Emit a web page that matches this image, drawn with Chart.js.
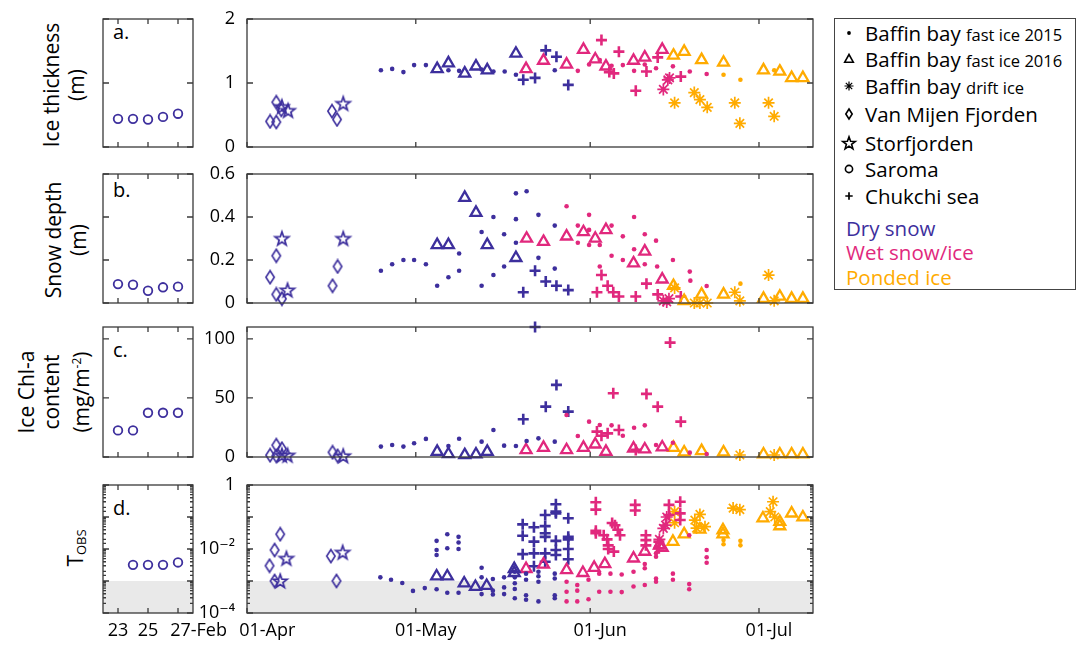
<!DOCTYPE html>
<html><head><meta charset="utf-8"><title>Sea ice observations</title>
<script src="https://cdn.jsdelivr.net/npm/chart.js@4.4.1/dist/chart.umd.min.js"></script>
<style>
html,body{margin:0;padding:0;background:#fff;}
body{width:1082px;height:646px;position:relative;overflow:hidden;font-family:'Open Sans','DejaVu Sans',sans-serif;color:#000;}
.box{position:absolute;}
.box canvas{display:block;}
.yt{position:absolute;transform:translate(-50%,-50%) rotate(-90deg);text-align:center;white-space:nowrap;font-size:21px;line-height:25px;}
.lab{position:absolute;font-size:20px;line-height:20px;}
#legend{position:absolute;left:834px;top:18px;width:242px;height:272px;border:1px solid #444;box-sizing:border-box;}
.lrow{position:absolute;left:0;height:28px;line-height:28px;white-space:nowrap;font-size:20.5px;}
.lrow svg{position:absolute;left:4px;top:4px;}
.lrow .t{position:absolute;left:30px;top:0;}
.lrow .s{font-size:16.5px;}
.phase{position:absolute;left:11px;height:26px;line-height:26px;font-size:20.5px;white-space:nowrap;}
sub{font-size:13px;vertical-align:-3px;}
sup{font-size:12px;vertical-align:8px;}
</style></head><body>
<div class="yt" style="left:64px;top:85px">Ice thickness<br>(m)</div>
<div class="yt" style="left:66px;top:240px">Snow depth<br>(m)</div>
<div class="yt" style="left:54px;top:392px">Ice Chl-a<br>content<br>(mg/m<sup>-2</sup>)</div>
<div class="yt" style="left:78px;top:548px">T<sub>OBS</sub></div>
<div class="lab" style="left:113px;top:22px">a.</div>
<div class="lab" style="left:113px;top:180px">b.</div>
<div class="lab" style="left:113px;top:340px">c.</div>
<div class="lab" style="left:113px;top:498px">d.</div>
<div id="legend"></div>
<script>
// ---------------- axes / categories ----------------
const febTicks = [23, 25, 27];
const febLabels = ['23', '25', '27-Feb'];
const monthTicks = [0, 30, 61, 91];          // days since 01-Apr
const monthLabels = ['01-Apr', '01-May', '01-Jun', '01-Jul'];
const thickTicks = [0, 1, 2];
const snowTicks = [0, 0.2, 0.4, 0.6];
const chlTicks = [0, 50, 100];
const tobsLabelValues = [1, 1e-2, 1e-4];
const tobsLabels = ['1', '10\u207B\u00B2', '10\u207B\u2074'];
const tobsLimit = 1e-3;
const legendSites = [['Baffin bay', 'fast ice 2015'], ['Baffin bay', 'fast ice 2016'], ['Baffin bay', 'drift ice'],
  ['Van Mijen Fjorden', ''], ['Storfjorden', ''], ['Saroma', ''], ['Chukchi sea', '']];
const legendPhases = ['Dry snow', 'Wet snow/ice', 'Ponded ice'];

// ---------------- Saroma (February) ----------------
const saromaDays = [23, 24, 25, 26, 27];
const saromaThick = [0.44, 0.44, 0.43, 0.47, 0.52];
const saromaSnow = [0.088, 0.085, 0.057, 0.073, 0.076];
const saromaChl = [22.5, 22.5, 37.4, 37.4, 37.4];
const saromaTobsDays = [24, 25, 26, 27];
const saromaTobs = [3.2e-3, 3.2e-3, 3.2e-3, 3.8e-3];

// ---------------- a. Ice thickness (m) [day since 01-Apr, value] ----------------
const thickVMF = [[4.1,0.40],[5.2,0.39],[5.2,0.70],[6.1,0.58],[15.1,0.56],[16.0,0.43]];
const thickStor = [[6.2,0.63],[7.3,0.57],[17.1,0.68]];
const thickBB15Dry = [[23.8,1.20],[25.8,1.22],[27.8,1.17],[29.7,1.28],[31.8,1.28],[35.8,1.20],[37.7,1.19],[41.7,1.21],[43.8,1.18],[45.8,1.18],[47.8,1.13],[54.7,1.20]];
const thickBB16Dry = [[33.8,1.22],[35.8,1.31],[38.7,1.15],[40.7,1.26],[42.7,1.20],[47.8,1.46]];
const thickChukDry = [[49.1,1.05],[51.2,1.08],[53.1,1.51],[55.0,1.41],[57.1,0.97]];
const thickBB16Wet = [[49.6,1.22],[52.7,1.35],[56.8,1.29],[59.8,1.52],[61.9,1.37],[63.8,1.26],[68.7,1.35],[70.7,1.40],[73.8,1.52]];
const thickBB15Wet = [[58.8,1.19],[60.8,1.29],[62.7,1.36],[64.8,1.27],[66.8,1.28],[68.8,1.19],[70.7,1.29],[72.7,1.23],[75.7,1.26],[78.7,1.18],[81.7,1.14]];
const thickChukWet = [[63.0,1.67],[64.4,1.17],[65.2,1.15],[66.1,1.49],[69.1,0.88],[71.0,1.18],[73.0,1.40],[77.1,1.10]];
const thickDriftWet = [[74.0,0.90],[74.8,1.05],[75.1,1.08]];
const thickBB16Pond = [[75.8,1.43],[77.7,1.49],[80.8,1.36],[84.7,1.32],[91.8,1.20],[94.7,1.18],[96.8,1.08],[98.8,1.08]];
const thickBB15Pond = [[84.7,1.13],[87.7,1.05],[93.7,1.20]];
const thickDriftPond = [[76.0,0.69],[79.5,0.85],[80.5,0.74],[81.8,0.62],[86.7,0.69],[87.6,0.37],[92.7,0.69],[93.7,0.48]];

// ---------------- b. Snow depth (m) ----------------
const snowVMF = [[4.1,0.12],[5.2,0.22],[5.2,0.04],[6.2,0.02],[15.2,0.08],[16.1,0.17]];
const snowStor = [[6.2,0.30],[7.2,0.06],[17.1,0.30]];
const snowBB15Dry = [[23.8,0.15],[25.8,0.18],[27.8,0.20],[29.7,0.20],[31.8,0.18],[33.8,0.08],[35.8,0.12],[37.7,0.23],[37.7,0.15],[41.7,0.33],[41.7,0.08],[43.8,0.40],[43.8,0.13],[45.7,0.32],[45.7,0.17],[47.8,0.51],[47.8,0.39],[47.8,0.28],[49.7,0.52],[51.8,0.41],[51.8,0.21],[54.7,0.36],[54.7,0.16]];
const snowBB16Dry = [[33.8,0.27],[35.8,0.27],[38.7,0.49],[40.7,0.42],[42.7,0.27],[47.8,0.21]];
const snowChukDry = [[49.1,0.05],[51.2,0.15],[53.1,0.10],[55.0,0.08],[57.1,0.06]];
const snowBB16Wet = [[49.7,0.30],[52.7,0.285],[56.8,0.31],[59.8,0.33],[61.9,0.30],[63.8,0.34],[68.7,0.185],[70.7,0.24],[73.8,0.11]];
const snowBB15Wet = [[56.8,0.45],[58.8,0.36],[58.8,0.28],[60.8,0.41],[60.8,0.34],[60.8,0.27],[62.7,0.27],[62.7,0.17],[64.8,0.36],[64.8,0.22],[66.8,0.31],[66.8,0.20],[68.8,0.40],[68.8,0.25],[70.7,0.32],[70.7,0.18],[72.7,0.29],[72.9,0.17],[75.7,0.20],[78.7,0.146],[78.8,0.104],[81.7,0.079]];
const snowChukWet = [[62.2,0.05],[63.0,0.13],[64.1,0.08],[65.1,0.05],[66.1,0.03],[69.1,0.03],[71.0,0.09],[73.0,0.04],[77.1,0.03]];
const snowDriftWet = [[74.0,0.01],[74.6,0.005],[75.0,0.02]];
const snowBB16Pond = [[75.8,0.08],[77.7,0.01],[80.8,0.04],[84.7,0.04],[91.8,0.02],[94.7,0.03],[96.8,0.02],[98.8,0.02]];
const snowBB15Pond = [[87.7,0.09]];
const snowDriftPond = [[76.0,0.07],[79.5,0.0],[80.5,0.0],[81.8,0.0],[86.7,0.05],[87.6,0.01],[92.7,0.13],[93.7,0.01]];

// ---------------- c. Ice Chl-a content (mg/m2) ----------------
const chlVMF = [[4.1,1.5],[5.2,10],[5.2,1],[6.2,7],[15.2,4],[16.1,1]];
const chlStor = [[6.2,1.5],[7.2,1.5],[17.1,1]];
const chlBB15Dry = [[23.8,8.8],[25.8,10.2],[27.8,8.8],[29.7,11.6],[31.8,15.3],[35.8,9.3],[37.7,15.5],[41.7,13],[43.8,22.9],[45.7,9.6],[47.8,9.3],[49.7,13.6],[51.8,15.8],[54.7,13]];
const chlBB16Dry = [[33.8,4.5],[35.8,2.5],[38.7,1.7],[40.7,2.3],[42.7,4.5]];
const chlChukDry = [[49.1,31.9],[51.2,110],[53.1,42.6],[55.0,61],[57.1,38.4]];
const chlBB16Wet = [[49.6,5.9],[52.7,7.9],[56.8,5.9],[59.8,7.9],[61.9,10.7],[63.8,4.5],[68.7,7.3],[70.7,6.5],[73.8,8.2]];
const chlBB15Wet = [[56.8,35.6],[58.8,17.8],[60.8,29.9],[62.7,27.1],[64.8,26.8],[66.8,18],[68.8,24.8],[70.7,26.8],[72.7,10.2],[75.7,12.1],[78.7,3.7],[81.7,2.5]];
const chlChukWet = [[62.2,21.5],[63.0,18],[64.1,20],[65.1,54],[66.1,22.9],[69.1,6],[71.0,53.4],[73.0,42.6],[75.2,96.8],[77.1,29.9]];
const chlBB16Pond = [[75.8,7.9],[77.7,4],[80.8,5.1],[84.7,4],[91.8,2.3],[94.7,2.3],[96.8,2.3],[98.8,2.3]];
const chlDriftPond = [[87.6,1.7],[93.7,1.7]];

// ---------------- d. T_OBS ----------------
const tobsVMF = [[4.0,3.0e-3],[4.9,9.3e-3],[5.9,0.029],[4.9,1.0e-3],[14.9,6.0e-3],[15.9,1.0e-3]];
const tobsStor = [[7.0,5.1e-3],[5.9,1.0e-3],[17.0,7.9e-3]];
const tobsBB15Dry = [[23.7,1.3e-3],[25.6,1.1e-3],[27.6,8.7e-4],[29.5,4.9e-4],[31.6,6.0e-4],[33.7,0.018],[33.7,9.3e-3],[33.7,6.5e-3],[33.7,5.5e-4],[35.6,0.029],[35.6,0.0105],[35.6,4.3e-4],[37.6,0.024],[37.6,0.016],[37.6,0.010],[37.6,4.3e-4],[41.7,2.6e-3],[41.7,1.3e-3],[41.7,3.9e-4],[43.7,1.15e-3],[43.7,5e-4],[43.7,3.8e-4],[45.7,1.3e-3],[45.7,6.3e-4],[45.7,3.9e-4],[47.6,1.95e-3],[47.6,1.3e-3],[47.6,8.5e-4],[47.6,5.6e-4],[47.6,2.9e-4],[49.6,1.7e-3],[49.6,1.1e-3],[49.6,3.6e-4],[49.6,2.6e-4],[51.8,1.95e-3],[51.8,1.4e-3],[51.8,9.5e-4],[51.8,2.3e-4],[54.7,1.7e-3],[54.7,1.2e-3],[54.7,3.6e-4],[54.7,2.9e-4]];
const tobsBB16Dry = [[33.7,1.4e-3],[35.6,1.4e-3],[38.6,8.5e-4],[40.6,6.6e-4],[42.6,7.1e-4],[47.5,2.4e-3],[47.5,1.8e-3]];
const tobsChukDry = [[49.0,0.059],[49.0,0.026],[49.0,6.9e-3],[51.0,0.048],[51.0,0.017],[51.0,7.3e-3],[51.0,2.9e-3],[53.0,0.115],[53.0,0.052],[53.0,0.031],[53.0,0.024],[53.0,7.3e-3],[53.0,4e-3],[54.9,0.25],[54.9,0.147],[54.9,0.13],[54.9,0.018],[54.9,9.3e-3],[54.9,6.5e-3],[57.1,0.091],[57.1,0.024],[57.1,0.020],[57.1,0.010],[57.1,4.8e-3]];
const tobsBB16Wet = [[49.6,2.4e-3],[52.7,3.3e-3],[56.8,2.2e-3],[59.7,1.8e-3],[61.7,2.6e-3],[63.6,3.4e-3],[68.7,5.1e-3],[70.7,8.3e-3],[73.3,0.013],[73.8,0.011]];
const tobsBB15Wet = [[56.8,9.5e-4],[56.8,4.6e-4],[56.8,2.3e-4],[58.7,7.5e-4],[58.7,5e-4],[58.7,2.3e-4],[60.7,1.1e-3],[60.7,2.7e-4],[62.6,1.7e-3],[62.6,4.6e-4],[64.6,1.7e-3],[64.6,4.6e-4],[66.6,1.6e-3],[66.6,4.5e-4],[68.7,1.95e-3],[68.7,6.7e-4],[70.7,3.4e-3],[70.7,2.5e-3],[70.7,7.5e-4],[72.7,0.012],[72.7,7.3e-3],[72.7,5.7e-3],[72.7,1.2e-3],[72.7,9.5e-4],[75.7,1.7e-3],[75.7,1.1e-3],[78.6,0.027],[78.6,8e-4],[78.6,5.5e-4],[81.7,9.3e-3],[81.7,5.5e-3],[81.7,3.7e-3]];
const tobsChukWet = [[62.0,0.29],[62.0,0.17],[62.0,0.037],[62.0,0.031],[63.4,0.027],[64.0,0.02],[64.2,0.013],[64.2,0.010],[64.9,0.065],[65.4,0.055],[65.9,0.04],[66.3,0.027],[65.2,8.3e-3],[69.0,0.24],[69.0,0.16],[70.9,0.027],[70.9,0.019],[70.9,0.013],[73.2,0.017],[73.2,0.0105],[75.0,0.24],[75.0,0.115],[77.0,0.30],[77.0,0.13],[77.0,0.081]];
const tobsDriftWet = [[74.6,0.10],[74.4,0.056],[74.0,0.044],[73.3,0.02]];
const tobsBB16Pond = [[75.7,0.017],[77.7,0.029],[80.5,0.041],[84.6,0.039],[84.6,0.029],[91.7,0.091],[94.7,0.071],[94.7,0.052],[96.8,0.13],[98.8,0.098]];
const tobsBB15Pond = [[84.7,0.019],[84.7,0.014],[87.7,0.018],[87.7,0.013]];
const tobsDriftPond = [[76.0,0.147],[76.0,0.066],[79.6,0.08],[80.5,0.12],[79.9,0.045],[81.4,0.05],[86.4,0.19],[87.6,0.17],[93.0,0.147],[93.5,0.30],[93.8,0.10]];

// ---------------- styling ----------------
const FONT = "'Open Sans','DejaVu Sans',sans-serif";
const COL = {dry: '#3d2f9d', wet: '#e1287d', pond: '#ffab00'};

function starCanvas(color) {
  const R = 7.2, lw = 1.7, s = 20;
  const c = document.createElement('canvas'); c.width = s; c.height = s;
  const g = c.getContext('2d'); g.strokeStyle = color; g.lineWidth = lw; g.beginPath();
  for (let i = 0; i < 10; i++) {
    const r = i % 2 ? R * 0.4 : R, a = -Math.PI / 2 + i * Math.PI / 5;
    const x = s / 2 + r * Math.cos(a), y = s / 2 + 0.6 + r * Math.sin(a);
    i ? g.lineTo(x, y) : g.moveTo(x, y);
  }
  g.closePath(); g.stroke(); return c;
}
function diamondCanvas(color) {
  const c = document.createElement('canvas'); c.width = 12; c.height = 16;
  const g = c.getContext('2d'); g.strokeStyle = color; g.lineWidth = 1.6; g.beginPath();
  g.moveTo(6, 1.5); g.lineTo(10.2, 8); g.lineTo(6, 14.5); g.lineTo(1.8, 8); g.closePath(); g.stroke(); return c;
}
const STAR = starCanvas(COL.dry), DIAM = diamondCanvas(COL.dry);

function pts(pairs) { return pairs.map(p => ({x: p[0], y: p[1]})); }
function zipPts(xs, ys) { return xs.map((x, i) => ({x: x, y: ys[i]})); }
function ds(data, kind, color) {
  const b = {data: data, showLine: false, clip: false, borderColor: color, backgroundColor: color, pointHoverRadius: 0};
  if (kind === 'dot') return Object.assign(b, {pointStyle: 'circle', pointRadius: 2.3, pointBorderWidth: 0});
  if (kind === 'tri') return Object.assign(b, {pointStyle: 'triangle', pointRadius: 6.3, pointBorderWidth: 2.3, backgroundColor: 'rgba(0,0,0,0)'});
  if (kind === 'ast') return Object.assign(b, {pointStyle: 'star', pointRadius: 6, pointBorderWidth: 1.7});
  if (kind === 'cross') return Object.assign(b, {pointStyle: 'cross', pointRadius: 5.5, pointBorderWidth: 2.6});
  if (kind === 'circ') return Object.assign(b, {pointStyle: 'circle', pointRadius: 4.3, pointBorderWidth: 1.8, backgroundColor: 'rgba(0,0,0,0)'});
  if (kind === 'dia') return Object.assign(b, {pointStyle: DIAM, pointRadius: 6});
  if (kind === 'star') return Object.assign(b, {pointStyle: STAR, pointRadius: 7});
}

const framePlugin = {
  id: 'frame',
  beforeDatasetsDraw(chart, args, o) {
    if (!o || !o.band) return;
    const a = chart.chartArea, y = chart.scales.y, ctx = chart.ctx;
    const top = y.getPixelForValue(o.band);
    ctx.save(); ctx.fillStyle = '#e9e9e9'; ctx.fillRect(a.left, top, a.right - a.left, a.bottom - top); ctx.restore();
  },
  afterDatasetsDraw(chart) {
    const a = chart.chartArea, ctx = chart.ctx, x = chart.scales.x, y = chart.scales.y;
    ctx.save(); ctx.strokeStyle = '#3a3a3a'; ctx.lineWidth = 1.3;
    ctx.strokeRect(a.left, a.top, a.right - a.left, a.bottom - a.top);
    ctx.beginPath();
    x.ticks.forEach(t => { const p = x.getPixelForValue(t.value);
      ctx.moveTo(p, a.bottom); ctx.lineTo(p, a.bottom - 5); ctx.moveTo(p, a.top); ctx.lineTo(p, a.top + 5); });
    y.ticks.forEach(t => { const p = y.getPixelForValue(t.value); let len = 6;
      if (y.type === 'logarithmic') { const lg = Math.log10(t.value); len = Math.abs(lg - Math.round(lg)) < 1e-6 ? 6 : 3; }
      ctx.moveTo(a.left, p); ctx.lineTo(a.left + len, p); ctx.moveTo(a.right, p); ctx.lineTo(a.right - len, p); });
    ctx.stroke(); ctx.restore();
  }
};

function panel(rect, xs, ys, datasets, opt) {
  const ml = 60, mr = opt.mr || 14, mt = 14, mb = opt.showX ? 44 : 14;
  const w = rect.r - rect.l + ml + mr, h = rect.b - rect.t + mt + mb;
  const div = document.createElement('div'); div.className = 'box';
  div.style.left = (rect.l - ml) + 'px'; div.style.top = (rect.t - mt) + 'px';
  div.style.width = w + 'px'; div.style.height = h + 'px';
  const cv = document.createElement('canvas'); cv.width = w; cv.height = h;
  cv.style.width = w + 'px'; cv.style.height = h + 'px';
  div.appendChild(cv); document.body.appendChild(div);
  const yScale = {
    type: ys.log ? 'logarithmic' : 'linear', min: ys.min, max: ys.max,
    afterFit: s => { s.width = ml; s.paddingTop = 0; s.paddingBottom = 0; },
    grid: {display: false, drawTicks: false}, border: {display: false},
    ticks: {display: !!opt.showY, autoSkip: false, padding: 12, color: '#000', font: {family: FONT, size: 18},
      callback: ys.fmt}
  };
  if (!ys.log) yScale.afterBuildTicks = s => { s.ticks = ys.ticks.map(v => ({value: v})); };
  new Chart(cv, {
    type: 'scatter',
    data: {datasets: datasets},
    options: {
      responsive: false, devicePixelRatio: 1, animation: false, events: [],
      layout: {padding: {left: 0, right: mr, top: mt, bottom: 0}},
      plugins: {legend: {display: false}, tooltip: {enabled: false}, frame: {band: opt.band}},
      scales: {
        x: {type: 'linear', min: xs.min, max: xs.max,
          afterBuildTicks: s => { s.ticks = xs.ticks.map(v => ({value: v})); },
          afterFit: s => { s.height = mb; s.paddingLeft = 0; s.paddingRight = 0; },
          grid: {display: false, drawTicks: false}, border: {display: false},
          ticks: {display: !!opt.showX, autoSkip: false, maxRotation: 0, minRotation: 0, padding: 7,
            labelOffset: xs.offset || 0, color: '#000', font: {family: FONT, size: 18}, callback: xs.fmt}},
        y: yScale
      }
    },
    plugins: [framePlugin]
  });
}

const FEB = {min: 22, max: 28, ticks: febTicks, offset: 0,
  fmt: (v, i) => i === 2 ? '\u2007\u2007\u2007\u2007' + febLabels[i] : febLabels[i]};
const MON = {min: 0, max: 100.6, ticks: monthTicks, offset: 10,
  fmt: (v, i) => i === 0 ? '\u2007\u2007' + monthLabels[i] : monthLabels[i]};
const linY = (ticks, max) => ({min: 0, max: max, ticks: ticks, fmt: (v, i) => String(ticks[i])});
const TOBS = {log: true, min: 1e-4, max: 1, fmt: (v) => {
  const k = tobsLabelValues.findIndex(t => Math.abs(Math.log10(v) - Math.log10(t)) < 1e-6);
  return k >= 0 ? tobsLabels[k] : ''; }};

const LEFT = {l: 103, r: 193}, RIGHT = {l: 247, r: 813};
const rows = [{t: 19, b: 147}, {t: 174, b: 303}, {t: 327, b: 457}, {t: 485, b: 613}];
const rc = (side, row) => ({l: side.l, r: side.r, t: rows[row].t, b: rows[row].b});

// left (Saroma) panels
panel(rc(LEFT, 0), FEB, linY(thickTicks, 2), [ds(zipPts(saromaDays, saromaThick), 'circ', COL.dry)], {});
panel(rc(LEFT, 1), FEB, linY(snowTicks, 0.6), [ds(zipPts(saromaDays, saromaSnow), 'circ', COL.dry)], {});
panel(rc(LEFT, 2), FEB, linY(chlTicks, 110), [ds(zipPts(saromaDays, saromaChl), 'circ', COL.dry)], {});
panel(rc(LEFT, 3), FEB, TOBS, [ds(zipPts(saromaTobsDays, saromaTobs), 'circ', COL.dry)], {showX: true, band: tobsLimit, mr: 60});

// right panels
function sets(s) {
  const out = [];
  [['bb15Dry','dot','dry'],['bb15Wet','dot','wet'],['bb15Pond','dot','pond'],
   ['bb16Dry','tri','dry'],['bb16Wet','tri','wet'],['bb16Pond','tri','pond'],
   ['vmf','dia','dry'],['stor','star','dry'],
   ['chukDry','cross','dry'],['chukWet','cross','wet'],
   ['driftWet','ast','wet'],['driftPond','ast','pond']].forEach(k => {
    if (s[k[0]]) out.push(ds(pts(s[k[0]]), k[1], COL[k[2]]));
  });
  return out;
}
panel(rc(RIGHT, 0), MON, linY(thickTicks, 2), sets({bb15Dry: thickBB15Dry, bb15Wet: thickBB15Wet, bb15Pond: thickBB15Pond,
  bb16Dry: thickBB16Dry, bb16Wet: thickBB16Wet, bb16Pond: thickBB16Pond, vmf: thickVMF, stor: thickStor,
  chukDry: thickChukDry, chukWet: thickChukWet, driftWet: thickDriftWet, driftPond: thickDriftPond}), {showY: true});
panel(rc(RIGHT, 1), MON, linY(snowTicks, 0.6), sets({bb15Dry: snowBB15Dry, bb15Wet: snowBB15Wet, bb15Pond: snowBB15Pond,
  bb16Dry: snowBB16Dry, bb16Wet: snowBB16Wet, bb16Pond: snowBB16Pond, vmf: snowVMF, stor: snowStor,
  chukDry: snowChukDry, chukWet: snowChukWet, driftWet: snowDriftWet, driftPond: snowDriftPond}), {showY: true});
panel(rc(RIGHT, 2), MON, linY(chlTicks, 110), sets({bb15Dry: chlBB15Dry, bb15Wet: chlBB15Wet,
  bb16Dry: chlBB16Dry, bb16Wet: chlBB16Wet, bb16Pond: chlBB16Pond, vmf: chlVMF, stor: chlStor,
  chukDry: chlChukDry, chukWet: chlChukWet, driftPond: chlDriftPond}), {showY: true});
panel(rc(RIGHT, 3), MON, TOBS, sets({bb15Dry: tobsBB15Dry, bb15Wet: tobsBB15Wet, bb15Pond: tobsBB15Pond,
  bb16Dry: tobsBB16Dry, bb16Wet: tobsBB16Wet, bb16Pond: tobsBB16Pond, vmf: tobsVMF, stor: tobsStor,
  chukDry: tobsChukDry, chukWet: tobsChukWet, driftWet: tobsDriftWet, driftPond: tobsDriftPond}), {showY: true, showX: true, band: tobsLimit});

// ---------------- legend ----------------
const icons = [
  '<circle cx="10" cy="10" r="1.9" fill="#000"/>',
  '<polygon points="10,5.5 14.3,13.2 5.7,13.2" fill="none" stroke="#000" stroke-width="1.6"/>',
  '<path d="M10,5.5V14.5M5.5,10H14.5M6.8,6.8L13.2,13.2M13.2,6.8L6.8,13.2" stroke="#000" stroke-width="1.2"/>',
  '<polygon points="10,5 13.2,10 10,15 6.8,10" fill="none" stroke="#000" stroke-width="1.6"/>',
  '<polygon points="10,3.8 11.6,8.3 16.3,8.4 12.6,11.3 13.9,15.9 10,13.2 6.1,15.9 7.4,11.3 3.7,8.4 8.4,8.3" fill="none" stroke="#000" stroke-width="1.6"/>',
  '<circle cx="10" cy="10" r="3.6" fill="none" stroke="#000" stroke-width="1.6"/>',
  '<path d="M10,6.3V13.7M6.3,10H13.7" stroke="#000" stroke-width="1.7"/>'
];
const leg = document.getElementById('legend');
const rowCenters = [13.7, 40.3, 67, 95, 123.7, 150.3, 177];
legendSites.forEach((s, i) => {
  const d = document.createElement('div'); d.className = 'lrow'; d.style.top = (rowCenters[i] - 14) + 'px';
  d.innerHTML = '<svg width="20" height="20" viewBox="0 0 20 20">' + icons[i] + '</svg><span class="t">' + s[0] +
    (s[1] ? ' <span class="s">' + s[1] + '</span>' : '') + '</span>';
  leg.appendChild(d);
});
const phaseCenters = [209, 233, 257.5];
legendPhases.forEach((p, i) => {
  const d = document.createElement('div'); d.className = 'phase'; d.style.top = (phaseCenters[i] - 13) + 'px';
  d.style.color = [COL.dry, COL.wet, COL.pond][i]; d.textContent = p; leg.appendChild(d);
});
</script>
</body></html>
